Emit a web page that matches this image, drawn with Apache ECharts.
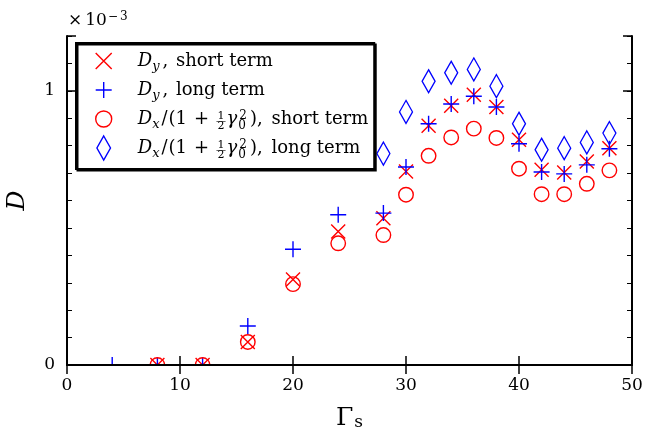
<!DOCTYPE html>
<html>
<head>
<meta charset="utf-8">
<script src="https://cdn.jsdelivr.net/npm/echarts@6/dist/echarts.min.js"></script>
<style>
  html, body { margin: 0; padding: 0; background: #fff; }
  #chart { width: 646px; height: 431px; }
</style>
</head>
<body>
<div id="chart"></div>
<script>
// Shear parameter Γs at which the diffusion was measured
const gammaS = [4, 8, 12, 16, 20, 24, 28, 30, 32, 34, 36, 38, 40, 42, 44, 46, 48];

// Diffusion coefficients in units of 1e-3 (null = no value at that Γs)
const dyShort = [null, 0, 0, 0.084, 0.312, 0.487, 0.535, 0.706, 0.873, 0.946, 0.986, 0.941, 0.822, 0.712, 0.702, 0.742, 0.791];
const dyLong  = [0, 0, 0, 0.142, 0.422, 0.548, 0.554, 0.722, 0.880, 0.952, 0.980, 0.941, 0.807, 0.704, 0.697, 0.730, 0.789];
const dxShort = [null, 0, 0, 0.084, 0.295, 0.444, 0.474, 0.621, 0.763, 0.830, 0.862, 0.828, 0.716, 0.623, 0.623, 0.661, 0.710];
const dxLong  = [null, null, null, null, null, null, 0.771, 0.923, 1.035, 1.066, 1.078, 1.017, 0.880, 0.785, 0.791, 0.812, 0.846];

// Axis tick labels
const yTickValues = [0, 1];
const yTickLabels = ['0', '1'];

// Legend texts (rich-text markup), keyed by series name
const seriesNames = ['dyShort', 'dyLong', 'dxShort', 'dxLong'];
const dxPrefix = '{i|D}{sb|x}{sl|/}(1{pl|+}{fb|—}{f1|1}{f2|2}{i|γ}{s0|0}{s2|2}{cp|)},';
const legendLabels = {
  dyShort: '{i|D}{sb|y}{cm|,} short term',
  dyLong: '{i|D}{sb|y}{cm|,} long term',
  dxShort: dxPrefix + '{sp| }short term',
  dxLong: dxPrefix + '{sp| }long term'
};

const FONT = 'DejaVu Serif';
const RED = '#ff0000';
const BLUE = '#0000ff';

// Marker shapes
const SYM_X = 'path://M0,0L14,14M14,0L0,14';
const SYM_PLUS = 'path://M8,0L8,16M0,8L16,8';
const SYM_CIRCLE = 'circle';
const SYM_DIAMOND = 'path://M6.5,0L13,11.5L6.5,23L0,11.5Z';

function toPairs(values) {
  const out = [];
  gammaS.forEach((g, i) => { if (values[i] !== null) out.push([g, values[i]]); });
  return out;
}

function scatter(name, values, symbol, size, color) {
  return {
    type: 'scatter',
    name: name,
    data: toPairs(values),
    xAxisIndex: 0,
    yAxisIndex: 0,
    symbol: symbol,
    symbolSize: size,
    symbolKeepAspect: false,
    clip: true,
    silent: true,
    animation: false,
    z: 2,
    itemStyle: { color: 'rgba(0,0,0,0)', borderColor: color, borderWidth: 1.4, opacity: 1 },
    emphasis: { disabled: true }
  };
}

const tickStyle = (w) => ({ color: '#000', width: w });

const chart = echarts.init(document.getElementById('chart'), null, { renderer: 'canvas' });

chart.setOption({
  animation: false,
  backgroundColor: '#fff',
  textStyle: { fontFamily: FONT },
  grid: {
    left: 67, right: 14, top: 36, bottom: 66,
    containLabel: false,
    outerBoundsMode: 'none',
    show: false
  },
  // white band under the plot frame: markers sitting on D = 0 are cut at the axis
  graphic: [{
    type: 'rect', silent: true, z: 5,
    shape: { x: 55, y: 366, width: 585, height: 11 },
    style: { fill: '#fff' }
  }],
  xAxis: [
    {
      type: 'value', position: 'bottom', min: 0, max: 50, interval: 10, z: 10,
      name: 'Γ{s|s}', nameLocation: 'middle', nameGap: 38, nameMoveOverlap: false,
      nameTextStyle: {
        fontFamily: FONT, fontSize: 25, color: '#000', lineHeight: 30,
        rich: { s: { fontFamily: FONT, fontSize: 17, verticalAlign: 'top', padding: [11, 0, 0, 1] } }
      },
      axisLine: { show: true, lineStyle: { color: '#000', width: 2 } },
      axisTick: { show: true, inside: true, length: 9, lineStyle: tickStyle(1.5) },
      axisLabel: { show: true, margin: 12, fontFamily: FONT, fontSize: 17, color: '#000' },
      splitLine: { show: false }
    },
    {
      type: 'value', position: 'top', min: 0, max: 50, interval: 10, z: 10,
      axisLine: { show: true, lineStyle: { color: '#000', width: 2 } },
      axisTick: { show: true, inside: true, length: 9, lineStyle: tickStyle(1.5) },
      axisLabel: { show: false },
      splitLine: { show: false }
    }
  ],
  yAxis: [
    {
      type: 'value', position: 'left', min: 0, max: 1.2, interval: 1, z: 10,
      name: '{m|×}10{sm|−}{sup|3}', nameLocation: 'end', nameGap: 5, nameMoveOverlap: false,
      nameTextStyle: {
        fontFamily: FONT, fontSize: 17, color: '#000', align: 'left', verticalAlign: 'bottom', lineHeight: 20,
        rich: {
          m: { fontFamily: FONT, fontSize: 17, padding: [0, 3, 0, 1] },
          sm: { fontFamily: FONT, fontSize: 12, verticalAlign: 'top', padding: [0, 2, 0, 1] },
          sup: { fontFamily: FONT, fontSize: 12, verticalAlign: 'top', padding: [0, 0, 0, 0] }
        }
      },
      axisLine: { show: true, lineStyle: { color: '#000', width: 2 } },
      axisTick: { show: true, inside: true, length: 9, lineStyle: tickStyle(1.5) },
      axisLabel: {
        show: true, margin: 12, fontFamily: FONT, fontSize: 17, color: '#000',
        formatter: (v) => {
          const k = yTickValues.indexOf(Math.round(v * 1000) / 1000);
          return k >= 0 ? yTickLabels[k] : '';
        }
      },
      splitLine: { show: false }
    },
    {
      type: 'value', position: 'left', min: 0, max: 1.2, interval: 0.1, z: 10,
      name: 'D', nameLocation: 'middle', nameGap: 37, nameRotate: 90, nameMoveOverlap: false,
      nameTextStyle: { fontFamily: FONT, fontSize: 25, fontStyle: 'italic', color: '#000' },
      axisLine: { show: false },
      axisTick: { show: true, inside: true, length: 5, lineStyle: tickStyle(1) },
      axisLabel: { show: false },
      splitLine: { show: false }
    },
    {
      type: 'value', position: 'right', min: 0, max: 1.2, interval: 1, z: 10,
      axisLine: { show: true, lineStyle: { color: '#000', width: 2 } },
      axisTick: { show: true, inside: true, length: 9, lineStyle: tickStyle(1.5) },
      axisLabel: { show: false },
      splitLine: { show: false }
    },
    {
      type: 'value', position: 'right', min: 0, max: 1.2, interval: 0.1, z: 10,
      axisLine: { show: false },
      axisTick: { show: true, inside: true, length: 5, lineStyle: tickStyle(1) },
      axisLabel: { show: false },
      splitLine: { show: false }
    }
  ],
  legend: {
    orient: 'vertical',
    left: 76, top: 43,
    padding: [4, 6, 7, 19],
    itemGap: 1,
    itemWidth: 16,
    itemHeight: 24,
    selectedMode: false,
    z: 20,
    backgroundColor: '#fff',
    borderColor: '#000',
    borderWidth: 2,
    borderRadius: 0,
    shadowColor: '#000',
    shadowBlur: 0,
    shadowOffsetX: 1.5,
    shadowOffsetY: 1.5,
    itemStyle: { borderWidth: 1.4 },
    data: [
      { name: 'dyShort', icon: SYM_X },
      { name: 'dyLong', icon: SYM_PLUS },
      { name: 'dxShort', icon: SYM_CIRCLE },
      { name: 'dxLong', icon: SYM_DIAMOND }
    ],
    formatter: (n) => legendLabels[n],
    textStyle: {
      fontFamily: FONT, fontSize: 18, color: '#000', lineHeight: 28, padding: [0, 0, 0, 21],
      rich: {
        i: { fontFamily: FONT, fontStyle: 'italic', fontSize: 18 },
        sb: { fontFamily: FONT, fontStyle: 'italic', fontSize: 13, verticalAlign: 'top', padding: [13.5, 1, 0, 0] },
        cm: { fontFamily: FONT, fontSize: 18, padding: [0, 2, 0, 2] },
        sl: { fontFamily: FONT, fontSize: 18, padding: [0, 1, 0, 1] },
        pl: { fontFamily: FONT, fontSize: 18, padding: [0, 7, 0, 7] },
        cp: { fontFamily: FONT, fontSize: 18, padding: [0, 0, 0, 2] },
        sp: { fontFamily: FONT, fontSize: 18, padding: [0, 3, 0, 0] },
        fb: { fontFamily: FONT, fontSize: 10, width: 0, verticalAlign: 'top', padding: [11, 0, 0, 0] },
        f1: { fontFamily: FONT, fontSize: 11, width: 0, verticalAlign: 'top', padding: [6, 0, 0, 1.5] },
        f2: { fontFamily: FONT, fontSize: 11, width: 7, verticalAlign: 'top', padding: [16, 2, 0, 0] },
        s0: { fontFamily: FONT, fontSize: 12, width: 0, verticalAlign: 'top', padding: [15, 0, 0, 1] },
        s2: { fontFamily: FONT, fontSize: 12, verticalAlign: 'top', padding: [5, 1, 0, 1] }
      }
    }
  },
  series: [
    scatter('dyShort', dyShort, SYM_X, 14, RED),
    scatter('dyLong', dyLong, SYM_PLUS, 16, BLUE),
    scatter('dxShort', dxShort, SYM_CIRCLE, 14.5, RED),
    scatter('dxLong', dxLong, SYM_DIAMOND, [13, 23], BLUE)
  ]
});
</script>
</body>
</html>
